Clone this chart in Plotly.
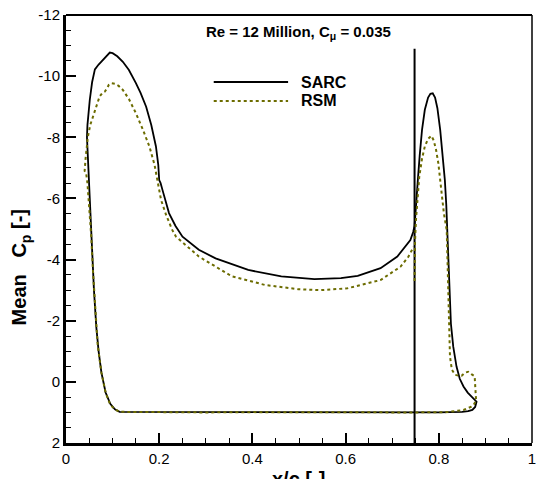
import plotly.graph_objects as go

# ---------------- data ----------------
# SARC: flap upper (from slot line) -> TE -> lower surface -> LE -> main upper
sarc_x = [0.748, 0.750, 0.752, 0.755, 0.759, 0.764, 0.770, 0.777, 0.782, 0.787,
          0.792, 0.797, 0.803, 0.808, 0.813, 0.816, 0.818, 0.820, 0.823, 0.826,
          0.831, 0.838, 0.845, 0.853, 0.862, 0.872, 0.881,
          0.878, 0.872, 0.863, 0.850, 0.800, 0.750, 0.600, 0.500, 0.400, 0.300,
          0.200, 0.150, 0.130, 0.115, 0.105, 0.095, 0.085, 0.076,
          0.070, 0.065, 0.060, 0.057, 0.054, 0.051, 0.048, 0.045,
          0.046, 0.048, 0.051, 0.056, 0.062, 0.070, 0.076, 0.085, 0.094, 0.100,
          0.110, 0.122, 0.135, 0.150, 0.160, 0.172, 0.183, 0.193, 0.198, 0.200,
          0.203, 0.207, 0.214, 0.221, 0.235, 0.250, 0.285, 0.321, 0.391, 0.462,
          0.533, 0.590, 0.626, 0.675, 0.711, 0.730, 0.739, 0.745, 0.748]
sarc_cp = [-5.1, -5.6, -6.1, -6.6, -7.4, -8.24, -8.9, -9.3, -9.42, -9.44,
           -9.3, -8.95, -8.24, -7.5, -6.6, -5.8, -4.97, -3.9, -2.79, -1.9,
           -1.15, -0.5, -0.1, 0.15, 0.35, 0.52, 0.65,
           0.82, 0.92, 0.96, 0.98, 1.0, 1.0, 0.99, 0.98, 0.99, 1.0,
           1.0, 1.0, 1.0, 0.98, 0.9, 0.72, 0.35, -0.3,
           -1.0, -1.8, -3.0, -4.0, -5.0, -6.0, -7.0, -8.0,
           -8.4, -8.8, -9.22, -9.8, -10.22, -10.38, -10.47, -10.62, -10.77, -10.75,
           -10.65, -10.47, -10.2, -9.77, -9.45, -9.0, -8.4, -7.7, -7.1, -6.6,
           -6.5, -6.28, -5.9, -5.52, -5.1, -4.75, -4.32, -4.04, -3.66, -3.45,
           -3.36, -3.39, -3.47, -3.72, -4.1, -4.45, -4.64, -4.9, -5.1]

# RSM: same ordering
rsm_x = [0.748, 0.748, 0.749, 0.751, 0.754, 0.758, 0.764, 0.770, 0.777, 0.784,
         0.789, 0.794, 0.799, 0.805, 0.811, 0.817, 0.819, 0.821, 0.823, 0.824,
         0.828, 0.835, 0.843, 0.849, 0.856, 0.863, 0.870, 0.877, 0.878, 0.879,
         0.880, 0.876, 0.870, 0.853, 0.817, 0.750, 0.600, 0.500, 0.400, 0.300,
         0.200, 0.150, 0.130, 0.115, 0.105, 0.095, 0.085, 0.076,
         0.068, 0.062, 0.058, 0.054, 0.050, 0.046, 0.043, 0.040,
         0.042, 0.044, 0.047, 0.052, 0.058, 0.065, 0.072, 0.078, 0.083, 0.088,
         0.092, 0.097, 0.105, 0.113, 0.122, 0.135, 0.150, 0.165, 0.179, 0.190,
         0.196, 0.200, 0.204, 0.215, 0.228, 0.236, 0.285, 0.356, 0.427, 0.498,
         0.547, 0.604, 0.675, 0.718, 0.735, 0.746]
rsm_cp = [-3.3, -4.0, -4.6, -5.3, -6.0, -6.7, -7.3, -7.7, -7.95, -8.05,
          -7.9, -7.6, -7.15, -6.3, -5.5, -4.97, -3.9, -2.79, -1.7, -0.83,
          -0.4, -0.23, -0.2, -0.2, -0.3, -0.33, -0.25, -0.18, 0.1, 0.37,
          0.6, 0.72, 0.81, 0.92, 0.99, 1.0, 0.99, 0.98, 0.99, 1.0,
          1.0, 1.0, 1.0, 0.98, 0.9, 0.75, 0.35, -0.3,
          -1.2, -2.5, -3.6, -4.8, -5.8, -6.5, -6.85, -6.9,
          -7.3, -7.7, -8.02, -8.4, -8.67, -9.0, -9.33, -9.45, -9.49, -9.6,
          -9.72, -9.77, -9.75, -9.68, -9.55, -9.25, -8.79, -8.25, -7.7, -7.1,
          -6.6, -6.3, -5.95, -5.45, -4.97, -4.75, -4.1, -3.45, -3.17, -3.03,
          -3.0, -3.06, -3.33, -3.77, -4.1, -4.42]

# slot / reference vertical line
slot_x = [0.748, 0.748]
slot_cp = [-10.9, 2.0]

x_ticks = [0, 0.2, 0.4, 0.6, 0.8, 1]
y_ticks = [-12, -10, -8, -6, -4, -2, 0, 2]

title_text = "Re = 12 Million, C<sub>\u03bc</sub> = 0.035"
legend_names = ["SARC", "RSM"]

OLIVE = "rgb(108,108,0)"
FONT = "Liberation Sans, Arial, Helvetica, sans-serif"

fig = go.Figure()
fig.add_trace(go.Scatter(x=slot_x, y=slot_cp, mode="lines",
                         line=dict(color="black", width=2), showlegend=False))
fig.add_trace(go.Scatter(x=sarc_x, y=sarc_cp, mode="lines", name=legend_names[0],
                         line=dict(color="black", width=1.8), showlegend=False))
fig.add_trace(go.Scatter(x=rsm_x, y=rsm_cp, mode="lines", name=legend_names[1],
                         line=dict(color=OLIVE, width=2, dash="dot"), showlegend=False))

W, H = 539, 479
L, R, T, B = 66, 3, 15, 36
pw, ph = W - L - R, H - T - B

def px(x):
    return (x - L) / pw

def py(y):
    return 1 - (y - T) / ph

# manual legend
fig.add_shape(type="line", xref="paper", yref="paper", x0=px(215), x1=px(290),
              y0=py(82), y1=py(82), line=dict(color="black", width=1.8))
fig.add_shape(type="line", xref="paper", yref="paper", x0=px(215), x1=px(290),
              y0=py(101), y1=py(101), line=dict(color=OLIVE, width=2, dash="dot"))
fig.add_annotation(xref="paper", yref="paper", x=px(301), y=py(82), xanchor="left",
                   yanchor="middle", text="<b>%s</b>" % legend_names[0], showarrow=False,
                   font=dict(family=FONT, size=16, color="black"))
fig.add_annotation(xref="paper", yref="paper", x=px(301), y=py(101), xanchor="left",
                   yanchor="middle", text="<b>%s</b>" % legend_names[1], showarrow=False,
                   font=dict(family=FONT, size=16, color="black"))
# title
fig.add_annotation(xref="paper", yref="paper", x=px(300), y=py(33), xanchor="center",
                   yanchor="middle", text="<b>%s</b>" % title_text, showarrow=False,
                   font=dict(family=FONT, size=15, color="black"))
# axis titles
fig.add_annotation(xref="paper", yref="paper", x=px(20), y=py(267), xanchor="center",
                   yanchor="middle", textangle=-90,
                   text="<b>Mean\u00a0\u00a0\u00a0C<sub>p</sub> [-]</b>", showarrow=False,
                   font=dict(family=FONT, size=20, color="black"))
fig.add_annotation(xref="paper", yref="paper", x=px(300), y=py(466), xanchor="center",
                   yanchor="top", text="<b>x/c [-]</b>", showarrow=False,
                   font=dict(family=FONT, size=20, color="black"))
# top & right frame
fig.add_shape(type="line", xref="paper", yref="paper", x0=0, x1=1, y0=1, y1=1,
              line=dict(color="black", width=2))
fig.add_shape(type="line", xref="paper", yref="paper", x0=1, x1=1, y0=0, y1=1,
              line=dict(color="black", width=1.5))

fig.update_xaxes(range=[0, 1], tickvals=x_ticks, ticktext=[str(v) for v in x_ticks],
                 showgrid=False, zeroline=False, showline=True, linecolor="black",
                 linewidth=3, ticks="inside", ticklen=10, tickwidth=2, tickcolor="black",
                 ticklabeloverflow="allow",
                 minor=dict(dtick=0.05, ticks="inside", ticklen=5, tickwidth=1,
                            tickcolor="black", showgrid=False),
                 tickfont=dict(family=FONT, size=15, color="black"))
fig.update_yaxes(range=[2, -12], tickvals=y_ticks, ticktext=[str(v) for v in y_ticks],
                 showgrid=False, zeroline=False, showline=True, linecolor="black",
                 linewidth=3, ticks="inside", ticklen=10, tickwidth=2, tickcolor="black",
                 ticklabeloverflow="allow",
                 minor=dict(dtick=0.5, ticks="inside", ticklen=5, tickwidth=1,
                            tickcolor="black", showgrid=False),
                 tickfont=dict(family=FONT, size=15, color="black"))

fig.update_layout(width=W, height=H, margin=dict(l=L, r=R, t=T, b=B),
                  plot_bgcolor="white", paper_bgcolor="white", showlegend=False,
                  font=dict(family=FONT, color="black"))

fig.write_html("out.html")
